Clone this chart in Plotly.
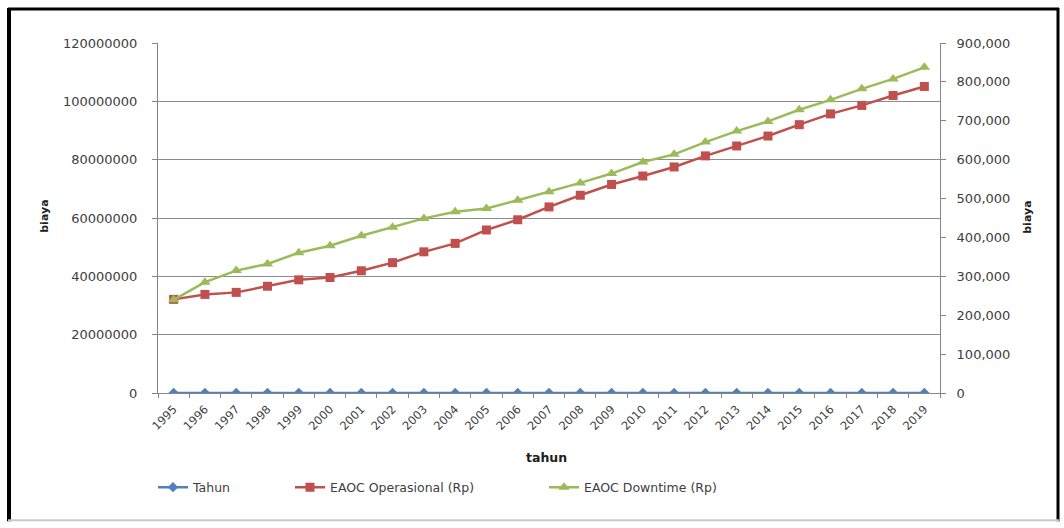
import plotly.graph_objects as go

# Years on the category axis
tahun = [str(y) for y in range(1995, 2020)]

# "Tahun" series holds the year values themselves (sits near zero on the left axis)
tahun_values = list(range(1995, 2020))

# EAOC Operasional (Rp), left axis
eaoc_operasional = [
    32100000, 33800000, 34500000, 36600000, 38800000, 39600000, 41900000,
    44700000, 48400000, 51300000, 55900000, 59400000, 63800000, 67800000,
    71500000, 74400000, 77500000, 81300000, 84700000, 88100000, 92000000,
    95700000, 98600000, 102000000, 105100000,
]

# EAOC Downtime (Rp), right axis
eaoc_downtime = [
    239600, 285000, 314700, 331900, 360800, 378800, 404400, 425900, 449000,
    465900, 474600, 495500, 517200, 540200, 564300, 594000, 613700, 645300,
    673500, 698300, 728300, 753900, 782100, 807700, 837500,
]

left_ticks = list(range(0, 120000001, 20000000))
right_ticks = list(range(0, 900001, 100000))

BLUE = "#4f81bd"
RED = "#c0504d"
GREEN = "#9bbb59"
FONT = "DejaVu Sans"

fig = go.Figure()

fig.add_trace(go.Scatter(
    x=tahun, y=tahun_values, name="Tahun", mode="lines+markers",
    line=dict(color=BLUE, width=2.5),
    marker=dict(symbol="diamond", size=8, color=BLUE),
    legend="legend",
))
fig.add_trace(go.Scatter(
    x=tahun, y=eaoc_operasional, name="EAOC Operasional (Rp)", mode="lines+markers",
    line=dict(color=RED, width=2.5),
    marker=dict(symbol="square", size=9, color=RED),
    legend="legend2",
))
fig.add_trace(go.Scatter(
    x=tahun, y=eaoc_downtime, name="EAOC Downtime (Rp)", mode="lines+markers",
    line=dict(color=GREEN, width=2.5),
    marker=dict(symbol="triangle-up", size=10, color=GREEN),
    yaxis="y2", legend="legend3",
))

legend_common = dict(
    orientation="h", yanchor="middle", y=-0.27, xanchor="left",
    font=dict(family=FONT, size=12.5, color="#404040"),
    bgcolor="rgba(0,0,0,0)", itemwidth=30,
)

# Plot area in pixels; helpers convert pixel positions to paper coordinates
L, R, T, B = 158, 940, 43, 393.5
W, H = R - L, B - T


def px_x(x):
    return (x - L) / W


def px_y(y):
    return 1 - (y - T) / H


# Frame around the whole chart
shapes = [
    dict(type="line", xref="paper", yref="paper", x0=px_x(9), x1=px_x(9),
         y0=px_y(8), y1=px_y(522), line=dict(color="black", width=4)),
    dict(type="line", xref="paper", yref="paper", x0=px_x(8), x1=px_x(1059),
         y0=px_y(9), y1=px_y(9), line=dict(color="black", width=3)),
    dict(type="line", xref="paper", yref="paper", x0=px_x(1058), x1=px_x(1058),
         y0=px_y(8), y1=px_y(522), line=dict(color="black", width=3)),
    dict(type="line", xref="paper", yref="paper", x0=px_x(8), x1=px_x(1059),
         y0=px_y(521), y1=px_y(521), line=dict(color="#c8c8c8", width=2)),
]

title_font = dict(family=FONT, size=11, color="#202020")
annotations = [
    dict(text="<b>biaya</b>", xref="paper", yref="paper", x=px_x(45), y=px_y(217),
         xanchor="center", yanchor="middle", textangle=-90, showarrow=False,
         font=title_font),
    dict(text="<b>biaya</b>", xref="paper", yref="paper", x=px_x(1028), y=px_y(218),
         xanchor="center", yanchor="middle", textangle=-90, showarrow=False,
         font=title_font),
    dict(text="<b>tahun</b>", xref="paper", yref="paper", x=px_x(546), y=px_y(458),
         xanchor="center", yanchor="middle", showarrow=False,
         font=dict(family=FONT, size=12.5, color="#202020")),
]

fig.update_layout(
    width=1064, height=528,
    margin=dict(l=L, r=1064 - R, t=T, b=528 - B),
    paper_bgcolor="white", plot_bgcolor="white",
    font=dict(family=FONT, size=10, color="#404040"),
    showlegend=True,
    legend=dict(legend_common, x=px_x(153)),
    legend2=dict(legend_common, x=px_x(290)),
    legend3=dict(legend_common, x=px_x(544)),
    xaxis=dict(
        type="category", range=[-0.5, len(tahun) - 0.5],
        tickangle=-45, tickson="boundaries",
        ticks="outside", ticklen=4, tickcolor="#868686",
        showline=True, linecolor="#868686", linewidth=1,
        ticklabelstandoff=4,
        showgrid=False, tickfont=dict(family=FONT, size=11.5, color="#404040"),
    ),
    yaxis=dict(
        range=[0, 120000000], tickvals=left_ticks, tickformat="d",
        showgrid=True, gridcolor="#8c8c8c", gridwidth=1,
        ticks="outside", ticklen=5, tickcolor="#868686",
        showline=True, linecolor="#868686", linewidth=1,
        ticklabelstandoff=12,
        zeroline=False, tickfont=dict(family=FONT, size=13, color="#404040"),
    ),
    yaxis2=dict(
        range=[0, 900000], tickvals=right_ticks, tickformat=",",
        overlaying="y", side="right", showgrid=False,
        ticks="outside", ticklen=5, tickcolor="#868686",
        showline=True, linecolor="#868686", linewidth=1,
        ticklabelstandoff=8,
        zeroline=False, tickfont=dict(family=FONT, size=13, color="#404040"),
    ),
    shapes=shapes,
    annotations=annotations,
)

fig.write_html("out.html")
